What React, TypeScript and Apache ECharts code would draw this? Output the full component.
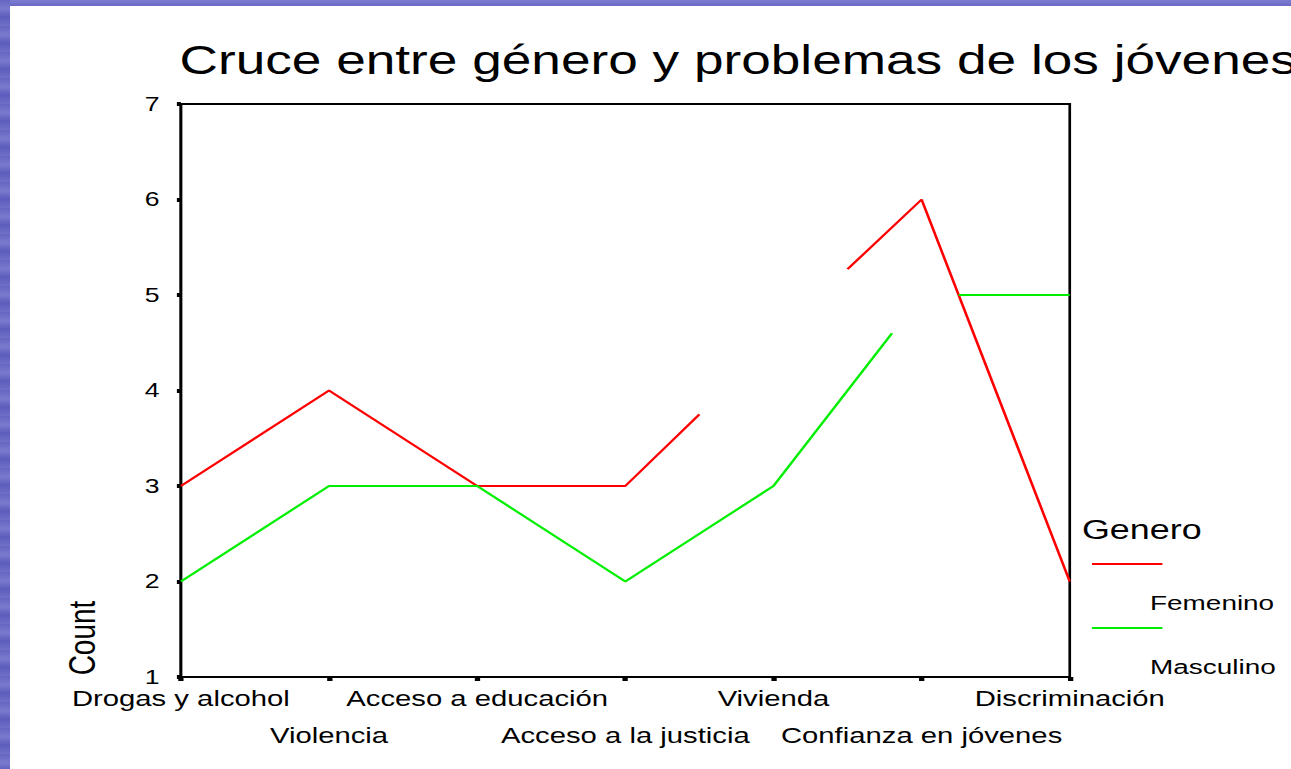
import React, { useEffect, useRef } from "react";
import * as echarts from "echarts";

// ---- data ----
const categories = [
  "Drogas y alcohol",
  "Violencia",
  "Acceso a educación",
  "Acceso a la justicia",
  "Vivienda",
  "Confianza en jóvenes",
  "Discriminación",
];
// [category position, count]; "-" marks a gap in the drawn line
const femenino: (number | string)[][] = [
  [0, 3], [1, 4], [2, 3], [3, 3], [3.5, 3.75], [4, "-"], [4.5, 5.27], [5, 6], [6, 2],
];
const masculino: (number | string)[][] = [
  [0, 2], [1, 3], [2, 3], [3, 2], [4, 3], [4.8, 4.6], [5, "-"], [5.25, 5], [6, 5],
];
const seriesNames = ["Femenino", "Masculino"];
const seriesColors = ["#ff0000", "#00ee00"];
const yMin = 1;
const yMax = 7;
const yInterval = 1;
const titleText = "Cruce entre género y problemas de los jóvenes";
const legendTitle = "Genero";
const yName = "Count";

const FONT = "'Liberation Sans', Arial, Helvetica, sans-serif";
const S = 1.33; // horizontal stretch of the original picture
const W = 1291 / S;
const H = 769;

export default function App() {
  const ref = useRef<HTMLDivElement>(null);
  useEffect(() => {
    if (!ref.current) return;
    const chart = echarts.init(ref.current, undefined, { renderer: "svg" });
    const gridLeft = 136;
    const gridRight = 804;
    const labelBase = {
      showMinLabel: true,
      showMaxLabel: true,
      hideOverlap: false,
      alignMinLabel: "center",
      alignMaxLabel: "center",
      fontFamily: FONT,
      fontSize: 22,
      lineHeight: 37,
      color: "#000",
    };
    const xBase = {
      type: "value",
      position: "bottom",
      min: 0,
      max: categories.length - 1,
      interval: 1,
      splitLine: { show: false },
    };
    chart.setOption({
      animation: false,
      title: {
        text: titleText,
        left: 130,
        top: 35,
        textStyle: { fontFamily: FONT, fontSize: 40, fontWeight: "normal", color: "#000" },
      },
      grid: {
        left: gridLeft,
        right: W - gridRight,
        top: 104,
        bottom: H - 677,
        show: true,
        borderColor: "#000",
        borderWidth: 2,
      },
      xAxis: [
        {
          ...xBase,
          axisLine: { show: true, onZero: false, lineStyle: { color: "#000", width: 2 } },
          axisTick: { show: true, length: 4, lineStyle: { color: "#000", width: 4 } },
          axisLabel: {
            ...labelBase,
            margin: 3,
            formatter: (v: number) => {
              const i = Math.round(v);
              return i % 2 === 0 ? categories[i] ?? "" : "";
            },
          },
        },
        {
          ...xBase,
          axisLine: { show: false, onZero: false },
          axisTick: { show: false },
          axisLabel: {
            ...labelBase,
            margin: 40,
            formatter: (v: number) => {
              const i = Math.round(v);
              return i % 2 === 1 ? categories[i] ?? "" : "";
            },
          },
        },
      ],
      yAxis: {
        type: "value",
        min: yMin,
        max: yMax,
        interval: yInterval,
        axisLine: { show: true, lineStyle: { color: "#000", width: 2 } },
        axisTick: { show: true, length: 3, lineStyle: { color: "#000", width: 4 } },
        splitLine: { show: false },
        axisLabel: {
          margin: 16,
          showMinLabel: true,
          showMaxLabel: true,
          fontFamily: FONT,
          fontSize: 20,
          color: "#000",
        },
      },
      series: [femenino, masculino].map((d, i) => ({
        name: seriesNames[i],
        type: "line",
        xAxisIndex: 0,
        data: d,
        symbol: "none",
        showSymbol: false,
        connectNulls: false,
        lineStyle: { color: seriesColors[i], width: 2 },
        itemStyle: { color: seriesColors[i] },
      })),
      graphic: [
        {
          type: "text",
          x: 61.7,
          y: 638,
          rotation: Math.PI / 2,
          style: {
            text: yName,
            fontFamily: FONT,
            fontSize: 28,
            fill: "#000",
            align: "center",
            verticalAlign: "middle",
          },
        },
        {
          type: "text",
          x: 813.5,
          y: 530,
          style: {
            text: legendTitle,
            fontFamily: FONT,
            fontSize: 27,
            fill: "#000",
            align: "left",
            verticalAlign: "middle",
          },
        },
        ...seriesNames.flatMap((n, i) => [
          {
            type: "line",
            shape: { x1: 821, y1: 564 + i * 64, x2: 874, y2: 564 + i * 64 },
            style: { stroke: seriesColors[i], lineWidth: 2 },
          },
          {
            type: "text",
            x: 864.7,
            y: 603 + i * 64,
            style: {
              text: n,
              fontFamily: FONT,
              fontSize: 21,
              fill: "#000",
              align: "left",
              verticalAlign: "middle",
            },
          },
        ]),
      ],
    });
    return () => chart.dispose();
  }, []);

  return (
    <div
      style={{
        position: "fixed",
        left: 0,
        top: 0,
        width: 1291,
        height: 769,
        overflow: "hidden",
        background: "#fff",
      }}
    >
      <div
        style={{
          position: "absolute",
          left: 0,
          top: 0,
          width: "100%",
          height: 6,
          background: "linear-gradient(to bottom, #7c7cd2, #6a6ac6)",
        }}
      />
      <div
        style={{
          position: "absolute",
          left: 0,
          top: 0,
          width: 10,
          height: "100%",
          background:
            "repeating-linear-gradient(to bottom, #6666c2 0px, #7a7ace 9px, #5c5cbc 17px, #7070c8 26px)",
        }}
      />
      <div
        ref={ref}
        style={{
          position: "absolute",
          left: 0,
          top: 0,
          width: W,
          height: H,
          transform: `scaleX(${S})`,
          transformOrigin: "0 0",
        }}
      />
    </div>
  );
}
